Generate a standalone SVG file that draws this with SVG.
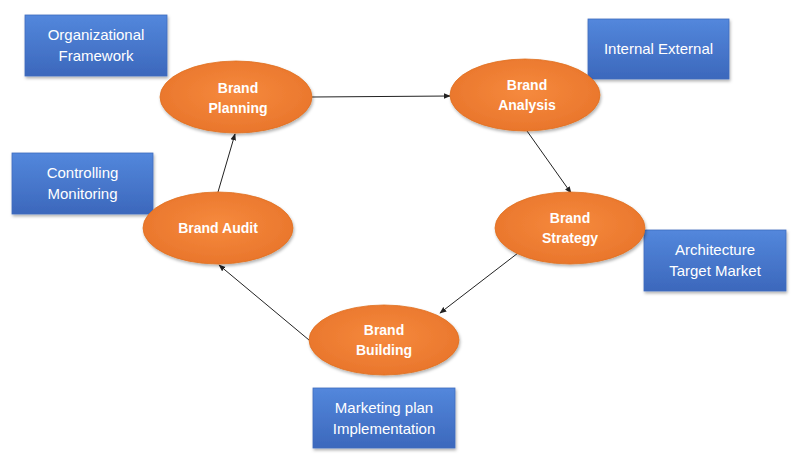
<svg xmlns="http://www.w3.org/2000/svg" width="792" height="455" viewBox="0 0 792 455">
<style>
.box{fill:url(#bg);stroke:#3f6cbf;stroke-width:0.8;filter:url(#sh)}
.ell{fill:url(#og);stroke:#e07020;stroke-width:0.8;filter:url(#sh)}
.bt{font-family:"Liberation Sans",Arial,sans-serif;font-size:15px;fill:#ffffff;text-anchor:middle}
.et{font-family:"Liberation Sans",Arial,sans-serif;font-size:14px;font-weight:bold;fill:#ffffff;text-anchor:middle}
.con{stroke:#222;stroke-width:1;fill:none;marker-end:url(#ah)}
</style>
<defs>
<linearGradient id="bg" x1="0" y1="0" x2="0" y2="1">
<stop offset="0" stop-color="#5387dc"/>
<stop offset="1" stop-color="#3c68bc"/>
</linearGradient>
<radialGradient id="og" cx="0.5" cy="0.45" r="0.6">
<stop offset="0" stop-color="#f68a3e"/>
<stop offset="1" stop-color="#e8742a"/>
</radialGradient>
<filter id="sh" x="-20%" y="-20%" width="140%" height="150%">
<feDropShadow dx="1" dy="2" stdDeviation="1.5" flood-color="#000" flood-opacity="0.3"/>
</filter>
<marker id="ah" viewBox="0 0 10 10" refX="9" refY="5" markerWidth="7" markerHeight="7" orient="auto" markerUnits="userSpaceOnUse">
<path d="M0,1 L10,5 L0,9 z" fill="#222"/>
</marker>
</defs>
<rect width="792" height="455" fill="#ffffff"/>
<g id="connectors">
<line class="con" x1="312" y1="97" x2="450" y2="96"/>
<line class="con" x1="527" y1="131" x2="571" y2="193"/>
<line class="con" x1="518" y1="253" x2="440" y2="313"/>
<line class="con" x1="309" y1="340" x2="219" y2="265"/>
<line class="con" x1="218" y1="192" x2="235" y2="134"/>
</g>
<g id="org-framework">
<rect class="box" x="25" y="15" width="142" height="61"/>
<text class="bt" x="96" y="40">Organizational</text>
<text class="bt" x="96" y="61">Framework</text>
</g>
<g id="internal-external">
<rect class="box" x="588" y="19" width="141" height="60"/>
<text class="bt" x="658.5" y="54">Internal External</text>
</g>
<g id="controlling-monitoring">
<rect class="box" x="12" y="153" width="141" height="61"/>
<text class="bt" x="82.5" y="178">Controlling</text>
<text class="bt" x="82.5" y="199">Monitoring</text>
</g>
<g id="architecture-target">
<rect class="box" x="644" y="230" width="142" height="61"/>
<text class="bt" x="715" y="255">Architecture</text>
<text class="bt" x="715" y="276">Target Market</text>
</g>
<g id="marketing-plan">
<rect class="box" x="313" y="388" width="142" height="60"/>
<text class="bt" x="384" y="413">Marketing plan</text>
<text class="bt" x="384" y="434">Implementation</text>
</g>
<g id="brand-planning">
<ellipse class="ell" cx="236" cy="97" rx="76" ry="36"/>
<text class="et" x="238" y="93">Brand</text>
<text class="et" x="238" y="113">Planning</text>
</g>
<g id="brand-analysis">
<ellipse class="ell" cx="525" cy="95" rx="75" ry="36"/>
<text class="et" x="527" y="90">Brand</text>
<text class="et" x="527" y="110">Analysis</text>
</g>
<g id="brand-strategy">
<ellipse class="ell" cx="570" cy="228" rx="75" ry="36"/>
<text class="et" x="570" y="223">Brand</text>
<text class="et" x="570" y="243">Strategy</text>
</g>
<g id="brand-building">
<ellipse class="ell" cx="384" cy="340" rx="75" ry="35"/>
<text class="et" x="384" y="335">Brand</text>
<text class="et" x="384" y="355">Building</text>
</g>
<g id="brand-audit">
<ellipse class="ell" cx="218" cy="228" rx="75" ry="36"/>
<text class="et" x="218" y="233">Brand Audit</text>
</g>
</svg>
